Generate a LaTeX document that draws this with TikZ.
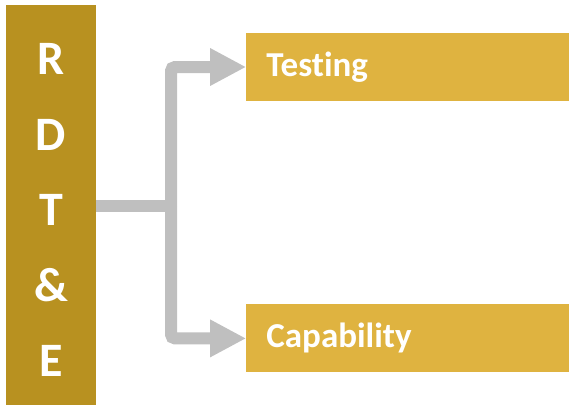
\documentclass[tikz,border=0pt]{standalone}
\usepackage{fontspec}
\setmainfont[Ligatures=NoCommon]{Carlito}
\usetikzlibrary{positioning,arrows.meta}

\definecolor{bargold}{RGB}{184,145,32}
\definecolor{boxgold}{RGB}{223,179,64}
\definecolor{linkgray}{RGB}{191,191,191}

\begin{document}
\begin{tikzpicture}[
	x=1pt, y=-1pt,
	barnode/.style={fill=bargold, text=white, minimum width=90pt, minimum height=400pt, align=center, font=\bfseries\fontsize{48pt}{75.5pt}\selectfont},
	itemnode/.style={fill=boxgold, text=white, minimum width=323pt, minimum height=68pt, text width=283pt, inner xsep=20pt, align=left, font=\bfseries\fontsize{35pt}{42pt}\selectfont},
	link/.style={draw=linkgray, line width=12pt, rounded corners=4pt},
	tip/.style={-{Triangle[length=36pt,width=35pt]}}
	]
	
	\useasboundingbox (0,0) rectangle (569,407);
	
	\node[barnode] (rdte) at (51,205) {\rule{0pt}{41pt}R\\D\\T\\\&\\E};
	\node[itemnode, below right = 28pt and 150pt of rdte.north east] (test) {Testing};
	\node[itemnode, below = 203pt of test] (cap) {Capability};
	
	\coordinate (fork) at (171,206);
	
	\draw[link] (rdte.east |- fork) -- (fork);
	\draw[link, tip] (fork) |- (test.west);
	\draw[link, tip] (fork) |- (cap.west);
	
\end{tikzpicture}
\end{document}
